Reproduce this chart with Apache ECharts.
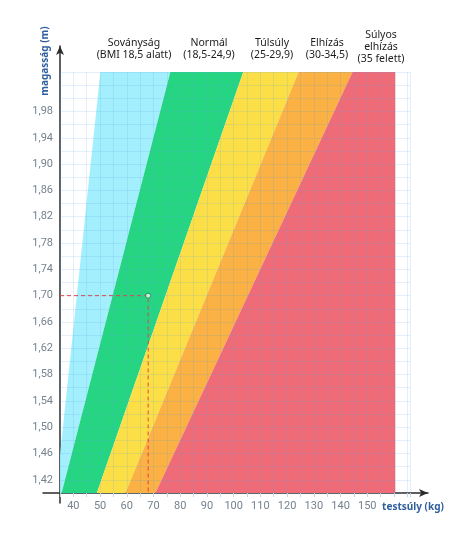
<!DOCTYPE html>
<html>
<head>
<meta charset="utf-8">
<script src="https://cdn.jsdelivr.net/npm/echarts@6/dist/echarts.min.js"></script>
<style>
html,body{margin:0;padding:0;background:#fff;}
#chart{width:474px;height:536px;}
</style>
</head>
<body>
<div id="chart"></div>
<script>
// ---- data ----
const bandNames = [
  'Soványság\n(BMI 18,5 alatt)',
  'Normál\n(18,5-24,9)',
  'Túlsúly\n(25-29,9)',
  'Elhízás\n(30-34,5)',
  'Súlyos\nelhízás\n(35 felett)'
];
const bottomHeight = 1.40;   // m
const topHeight = 2.04;      // m
const edgeWeightsAtBottom = [33.5, 35.6, 48.8, 59.5, 70.7, 160.5]; // kg at 1.40 m
const edgeWeightsAtTop    = [50.1, 76.3, 103.6, 124.3, 144.5, 160.5]; // kg at 2.04 m
const exampleWeight = 68;
const exampleHeight = 1.70;
const xTickLabels = [40, 50, 60, 70, 80, 90, 100, 110, 120, 130, 140, 150];
const yTickLabels = ['1,42','1,46','1,50','1,54','1,58','1,62','1,66','1,70','1,74','1,78','1,82','1,86','1,90','1,94','1,98'];
const xAxisName = 'testsúly (kg)';
const yAxisName = 'magasság (m)';

// ---- styles ----
const bandColors = ['#a4effd', '#26d582', '#fcdf47', '#fbb143', '#ef6b78'];
const titleCenters = [134, 209, 272, 327, 381];
const titleBottoms = [61, 61, 61, 61, 65];

const chart = echarts.init(document.getElementById('chart'), null, {renderer: 'canvas'});

const bandData = bandNames.map((n, i) => [
  edgeWeightsAtBottom[i], edgeWeightsAtTop[i],
  edgeWeightsAtBottom[i + 1], edgeWeightsAtTop[i + 1], i
]);

const labelFont = '"Liberation Sans Narrow", Roboto, sans-serif';

const graphics = bandNames.map((n, i) => ({
  type: 'text',
  x: titleCenters[i],
  y: titleBottoms[i],
  z: 100,
  style: {
    text: n,
    fill: '#1c1c1c',
    font: '10.5px "Noto Sans", sans-serif',
    textAlign: 'center',
    textVerticalAlign: 'bottom',
    lineHeight: 12
  }
}));
graphics.push({
  type: 'text', x: 413, y: 507, z: 100,
  style: {text: xAxisName, fill: '#2f5f9e', font: 'bold 10px "Noto Sans", sans-serif',
          textAlign: 'center', textVerticalAlign: 'middle'}
});
graphics.push({
  type: 'text', x: 45, y: 61, z: 100, rotation: Math.PI / 2,
  style: {text: yAxisName, fill: '#2f5f9e', font: 'bold 10px "Noto Sans", sans-serif',
          textAlign: 'center', textVerticalAlign: 'middle'}
});

const option = {
  animation: false,
  backgroundColor: '#fff',
  grid: [
    {left: 60, top: 72, right: 64, bottom: 43},          // data grid
    {left: 43, top: 72, right: 46, bottom: 43},          // x arrow axis
    {left: 60, top: 46, right: 64, bottom: 33}           // y arrow axis
  ],
  xAxis: [
    {
      gridIndex: 0, type: 'value', min: 35, max: 166, interval: 5, z: 3,
      axisLine: {show: false},
      axisTick: {show: true, length: 4, lineStyle: {color: '#c9d3dc'}},
      axisLabel: {
        margin: 8, color: '#76828e', fontSize: 11, fontFamily: labelFont,
        formatter: v => (Math.abs(v - Math.round(v)) < 1e-6 && xTickLabels.indexOf(Math.round(v)) >= 0) ? String(Math.round(v)) : ''
      },
      splitLine: {show: true, lineStyle: {color: 'rgba(80,160,230,0.16)', width: 1}}
    },
    {
      gridIndex: 1, type: 'value', min: 0, max: 1,
      axisLine: {show: true, onZero: false, symbol: ['none', 'arrow'], symbolSize: [6, 9],
                 lineStyle: {color: '#2b2b2b', width: 1.5}},
      axisTick: {show: false}, axisLabel: {show: false}, splitLine: {show: false}
    },
    {
      gridIndex: 2, type: 'value', min: 0, max: 1, show: false
    }
  ],
  yAxis: [
    {
      gridIndex: 0, type: 'value', min: bottomHeight, max: topHeight, interval: 0.02, z: 3,
      axisLine: {show: false},
      axisTick: {show: false},
      axisLabel: {
        margin: 7, color: '#76828e', fontSize: 11, fontFamily: labelFont,
        formatter: v => {
          const s = v.toFixed(2).replace('.', ',');
          return yTickLabels.indexOf(s) >= 0 ? s : '';
        }
      },
      splitLine: {show: true, lineStyle: {color: 'rgba(80,160,230,0.16)', width: 1}}
    },
    {
      gridIndex: 1, type: 'value', min: 0, max: 1, show: false
    },
    {
      gridIndex: 2, type: 'value', min: 0, max: 1,
      axisLine: {show: true, onZero: false, symbol: ['none', 'arrow'], symbolSize: [6, 9],
                 lineStyle: {color: '#2b2b2b', width: 1.5}},
      axisTick: {show: false}, axisLabel: {show: false}, splitLine: {show: false}
    }
  ],
  graphic: graphics,
  series: [
    {
      type: 'custom',
      xAxisIndex: 0, yAxisIndex: 0,
      clip: true,
      z: 2,
      data: bandData,
      renderItem: (params, api) => {
        const b0 = api.value(0), t0 = api.value(1), b1 = api.value(2), t1 = api.value(3);
        const idx = api.value(4);
        const pts = [
          api.coord([b0, bottomHeight]),
          api.coord([t0, topHeight]),
          api.coord([t1, topHeight]),
          api.coord([b1, bottomHeight])
        ];
        return {
          type: 'polygon',
          shape: {points: pts},
          style: {fill: bandColors[idx], stroke: null}
        };
      }
    },
    {
      type: 'line',
      xAxisIndex: 0, yAxisIndex: 0,
      z: 5,
      symbol: 'none',
      data: [[35, exampleHeight], [exampleWeight, exampleHeight], [exampleWeight, bottomHeight]],
      lineStyle: {color: '#e0454a', width: 1, type: [4, 3]}
    },
    {
      type: 'scatter',
      xAxisIndex: 0, yAxisIndex: 0,
      z: 6,
      symbolSize: 5,
      data: [[exampleWeight, exampleHeight]],
      itemStyle: {color: '#e9fff1', borderColor: '#177a47', borderWidth: 1}
    }
  ]
};
chart.setOption(option);
</script>
</body>
</html>
